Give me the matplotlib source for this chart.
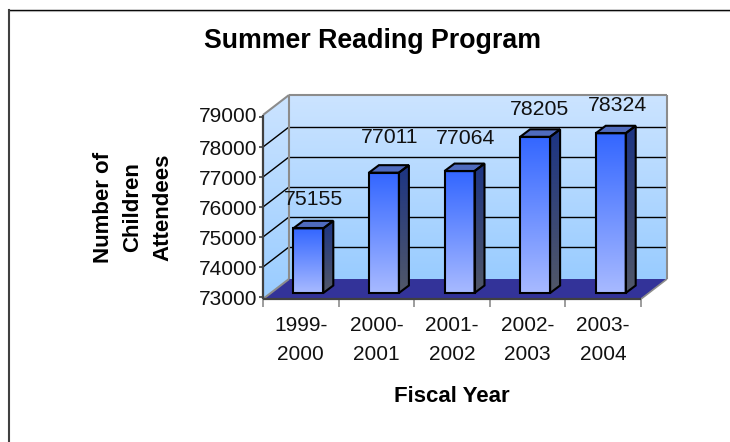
import numpy as np
import matplotlib
matplotlib.use("Agg")
import matplotlib.pyplot as plt
from matplotlib.colors import LinearSegmentedColormap
from matplotlib.lines import Line2D
from matplotlib.patches import Polygon
from matplotlib.transforms import ScaledTranslation

plt.rcParams['font.family'] = ['Liberation Sans', 'DejaVu Sans']

# data
categories = ["1999-\n2000", "2000-\n2001", "2001-\n2002", "2002-\n2003", "2003-\n2004"]
attendees = [75155, 77011, 77064, 78205, 78324]
y_ticks = [73000, 74000, 75000, 76000, 77000, 78000, 79000]
title = "Summer Reading Program"
x_title = "Fiscal Year"
y_title = "Number of\nChildren\nAttendees"

# layout (pixels)
W, H = 730, 442
LEFT, RIGHT, Y_BASE, Y_TOP = 263, 641, 297, 117
PX_PER_CAT = (RIGHT - LEFT) / 5
PX_PER_VAL = (Y_BASE - Y_TOP) / 6000
WALL_DX, WALL_DY = 26, 20
WALL_LOW, WALL_HIGH = 72933, 79067
BAR_W, BAR_INSET_X, BAR_INSET_Y, BAR_DX, BAR_DY = 30, 7.5, 4, 10, 7.5
label_nudge = [(5, 29), (6, 35), (6, 33), (4, 27), (7, 28)]

fig = plt.figure(figsize=(W / 100, H / 100), dpi=100, facecolor="white")
ax = fig.add_axes([LEFT / W, 1 - Y_BASE / H, (RIGHT - LEFT) / W, (Y_BASE - Y_TOP) / H])
ax.set_xlim(-0.5, 4.5)
ax.set_ylim(y_ticks[0], y_ticks[-1])
for s in ax.spines.values():
    s.set_visible(False)
ax.patch.set_visible(False)


def P(x, v, dx=0.0, dy=0.0):
    """Data position shifted by a depth offset given in pixels."""
    return (x + dx / PX_PER_CAT, v + dy / PX_PER_VAL)


def grad(poly, c_top, c_bot, z, mid=None):
    pts = np.array(poly)
    colors = [c_top, c_bot] if mid is None else [c_top, mid, c_bot]
    cmap = LinearSegmentedColormap.from_list("g", colors)
    im = ax.imshow(np.linspace(0, 1, 256)[:, None], cmap=cmap, aspect="auto", origin="upper",
                   extent=(pts[:, 0].min(), pts[:, 0].max(), pts[:, 1].min(), pts[:, 1].max()),
                   zorder=z, interpolation="bilinear")
    patch = Polygon(pts, closed=True, transform=ax.transData, fc="none", ec="none")
    im.set_clip_box(fig.bbox)
    im.set_clip_path(patch)
    return im


def shape(poly, fc="none", ec="black", lw=1.5, z=2):
    ax.add_patch(Polygon(poly, closed=True, fc=fc, ec=ec, lw=lw, zorder=z, clip_on=False, joinstyle="miter"))


def seg(a, b, color="black", lw=1.0, z=1.5):
    ax.plot([a[0], b[0]], [a[1], b[1]], color=color, lw=lw, zorder=z, clip_on=False, solid_capstyle="butt")


x0, x1 = -0.5, 4.5
wall_top, wall_bot = "#CCE4FF", "#99CCFF"
# back wall
back = [P(x0, WALL_LOW, WALL_DX, WALL_DY), P(x1, WALL_LOW, WALL_DX, WALL_DY),
        P(x1, WALL_HIGH, WALL_DX, WALL_DY), P(x0, WALL_HIGH, WALL_DX, WALL_DY)]
grad(back, wall_top, wall_bot, 1)
# side wall
side = [P(x0, WALL_LOW), P(x0, WALL_LOW, WALL_DX, WALL_DY), P(x0, WALL_HIGH, WALL_DX, WALL_DY), P(x0, WALL_HIGH)]
grad(side, wall_top, wall_bot, 1)
# gridlines
for v in y_ticks[1:-1]:
    seg(P(x0, v), P(x0, v, WALL_DX, WALL_DY))
    seg(P(x0, v, WALL_DX, WALL_DY), P(x1, v, WALL_DX, WALL_DY))
# floor
floor = [P(x0, WALL_LOW), P(x1, WALL_LOW), P(x1, WALL_LOW, WALL_DX, WALL_DY), P(x0, WALL_LOW, WALL_DX, WALL_DY)]
shape(floor, fc="#333399", ec="none", lw=0, z=1.7)
# wall frame
gray = "#8C8C8C"
seg(back[0], back[3], gray, 1.5, 1.8)
seg(back[3], back[2], gray, 1.5, 1.8)
seg(back[2], back[1], gray, 1.5, 1.8)
seg(side[3], side[2], gray, 1.5, 1.8)
seg(side[0], side[1], gray, 1.5, 1.8)
seg(floor[1], floor[2], gray, 1.2, 1.8)
seg(side[0], side[3], "#404040", 1.6, 3)
seg(floor[0], floor[1], "#404040", 1.6, 3)

# bars
bw = BAR_W / PX_PER_CAT
for i, v in enumerate(attendees):
    xl = i - bw / 2 + BAR_INSET_X / PX_PER_CAT
    xr = xl + bw
    base = y_ticks[0]
    front = [P(xl, base, 0, BAR_INSET_Y), P(xr, base, 0, BAR_INSET_Y), P(xr, v, 0, BAR_INSET_Y), P(xl, v, 0, BAR_INSET_Y)]
    rside = [P(xr, base, 0, BAR_INSET_Y), P(xr, base, BAR_DX, BAR_INSET_Y + BAR_DY),
             P(xr, v, BAR_DX, BAR_INSET_Y + BAR_DY), P(xr, v, 0, BAR_INSET_Y)]
    top = [P(xl, v, 0, BAR_INSET_Y), P(xr, v, 0, BAR_INSET_Y),
           P(xr, v, BAR_DX, BAR_INSET_Y + BAR_DY), P(xl, v, BAR_DX, BAR_INSET_Y + BAR_DY)]
    grad(front, "#3366FF", "#A8BAFF", 4 + i * 0.1)
    grad(rside, "#1C3484", "#525868", 4 + i * 0.1)
    shape(top, fc="#4F6BBE", z=4.02 + i * 0.1)
    shape(front, z=4.03 + i * 0.1)
    shape(rside, z=4.03 + i * 0.1)
    nx, ny = label_nudge[i]
    ax.annotate(f"{v}", xy=P(xl + bw / 2, v, 0, BAR_INSET_Y), xytext=(nx * 0.72, ny * 0.72),
                textcoords="offset points", ha="center", va="center", fontsize=15.3, color="#111111",
                zorder=10, annotation_clip=False)

# axes ticks
ax.set_xticks(range(5), categories)
ax.set_xticks(np.arange(x0, x1 + 0.1, 1), minor=True)
ax.tick_params(axis="x", which="major", length=0, pad=14, labelsize=15, labelcolor="#111111")
ax.tick_params(axis="x", which="minor", length=7, width=1.2, color=gray, bottom=True)
for t in ax.get_xticklabels():
    t.set_linespacing(1.65)
ax.set_yticks(y_ticks)
ax.tick_params(axis="y", length=3, width=1.2, color="#404040", pad=1, labelsize=15, labelcolor="#111111")
ylab = ax.get_yticklabels()
ylab[-1].set_transform(ylab[-1].get_transform() + ScaledTranslation(0, 3 / 100, fig.dpi_scale_trans))

ax.set_xlabel(x_title, fontsize=16, fontweight="bold", color="black")
ax.xaxis.set_label_coords((452 - LEFT) / (RIGHT - LEFT), (Y_BASE - 396) / (Y_BASE - Y_TOP))
ax.xaxis.label.set_va("center")
ax.set_ylabel(y_title, fontsize=16, fontweight="bold", color="black", linespacing=1.55)
ax.yaxis.set_label_coords((133 - LEFT) / (RIGHT - LEFT), (Y_BASE - 207) / (Y_BASE - Y_TOP))
ax.yaxis.label.set_va("center")
ax.set_title(title, fontsize=19.3, fontweight="bold", color="black", x=(373 - LEFT) / (RIGHT - LEFT),
             y=(Y_BASE - 41) / (Y_BASE - Y_TOP), va="center", pad=0)

# outer frame
fig.add_artist(Line2D([9 / W, 1], [1 - 9.5 / H] * 2, color="black", lw=1.0))
fig.add_artist(Line2D([9 / W, 1], [1 - 10.7 / H] * 2, color="#B0B0B0", lw=0.8))
fig.add_artist(Line2D([9 / W, 9 / W], [0, 1 - 9.5 / H], color="#404040", lw=1.5))

ax.set_xlim(x0, x1)
ax.set_ylim(y_ticks[0], y_ticks[-1])
fig.savefig("out.png", dpi=100, facecolor="white")
